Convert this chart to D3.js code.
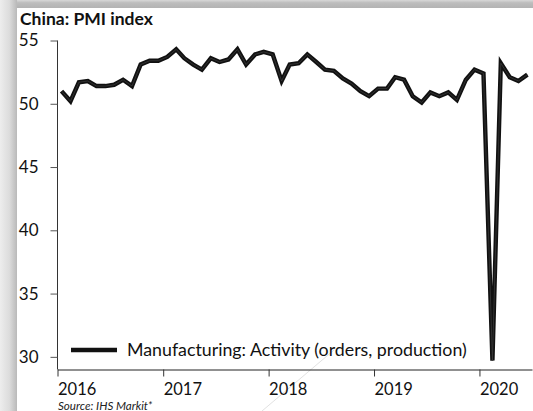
<!DOCTYPE html>
<html>
<head>
<meta charset="utf-8">
<script src="https://cdn.jsdelivr.net/npm/d3@7"></script>
<style>
  html, body { margin: 0; padding: 0; background: #fff; }
  svg { display: block; font-family: Lato, "Open Sans", sans-serif; }
</style>
</head>
<body>
<svg id="chart" width="533" height="411"></svg>
<script>
// China PMI, manufacturing activity, monthly from Jan 2016 to Jun 2020
var startMonth = '2016-01';
var activity = [
  51.0, 50.2, 51.7, 51.8, 51.4, 51.4, 51.5, 51.9, 51.4, 53.1, 53.4, 53.4,
  53.7, 54.3, 53.6, 53.1, 52.7, 53.6, 53.3, 53.5, 54.3, 53.1, 53.9, 54.1,
  53.9, 51.8, 53.1, 53.2, 53.9, 53.3, 52.7, 52.6, 52.0, 51.6, 51.0, 50.6,
  51.2, 51.2, 52.1, 51.9, 50.6, 50.1, 50.9, 50.6, 50.9, 50.3, 51.9, 52.7,
  52.4, 29.7, 53.2, 52.1, 51.8, 52.3
];
var yearTicks = [2016, 2017, 2018, 2019, 2020];
var valueTicks = [30, 35, 40, 45, 50, 55];
var seriesName = 'Manufacturing: Activity (orders, production)';
var titleText = 'China: PMI index';
var sourceText = 'Source: IHS Markit*';

var svg = d3.select('#chart');
var W = 533, H = 411;

// grey frame round the picture (left and top edges)
var defs = svg.append('defs');
var gl = defs.append('linearGradient').attr('id', 'edgeLeft')
  .attr('x1', 0).attr('x2', 1).attr('y1', 0).attr('y2', 0);
gl.append('stop').attr('offset', 0).attr('stop-color', '#ededed');
gl.append('stop').attr('offset', 0.55).attr('stop-color', '#dcdcdc');
gl.append('stop').attr('offset', 1).attr('stop-color', '#b9b9b9');
var gt = defs.append('linearGradient').attr('id', 'edgeTop')
  .attr('x1', 0).attr('x2', 0).attr('y1', 0).attr('y2', 1);
gt.append('stop').attr('offset', 0).attr('stop-color', '#d8d8d8');
gt.append('stop').attr('offset', 0.35).attr('stop-color', '#bdbdbd');
gt.append('stop').attr('offset', 1).attr('stop-color', '#b3b3b3');

svg.append('rect').attr('width', W).attr('height', H).attr('fill', '#fff');
svg.append('rect').attr('x', 0).attr('y', 0).attr('width', W).attr('height', 8)
  .attr('fill', 'url(#edgeTop)');
svg.append('rect').attr('x', 0).attr('y', 0).attr('width', 17).attr('height', H)
  .attr('fill', 'url(#edgeLeft)');
// faint scan streak seen in the picture
svg.append('line').attr('x1', 262).attr('y1', 411).attr('x2', 334).attr('y2', 350)
  .attr('stroke', '#d4d4d4').attr('stroke-width', 0.7);

var parseMonth = d3.timeParse('%Y-%m');
var t0 = parseMonth(startMonth);
var points = activity.map(function(v, i) {
  return { date: d3.timeDay.offset(d3.timeMonth.offset(t0, i), 14), value: v };
});

var x = d3.scaleTime()
  .domain([t0, d3.timeMonth.offset(t0, activity.length)])
  .range([57.5, 532]);
var y = d3.scaleLinear().domain([29, 55]).range([369.5, 40.5]);

// title
svg.append('text')
  .attr('x', 20).attr('y', 24.5)
  .attr('font-size', 17.5).attr('font-weight', 700).attr('fill', '#111')
  .text(titleText);

// y axis
var yAxis = svg.append('g')
  .attr('transform', 'translate(57.5,0)')
  .call(d3.axisLeft(y).tickValues(valueTicks).tickSize(7).tickPadding(12).tickFormat(d3.format('d')));
yAxis.select('.domain').attr('stroke', '#333').attr('d', 'M0,' + y(55) + 'V' + y(29));
yAxis.selectAll('.tick line').attr('stroke', '#555');
yAxis.selectAll('.tick text')
  .attr('font-size', 17).attr('fill', '#111').attr('font-family', 'Lato, sans-serif');

// x axis, year ticks with labels starting at the tick
var yearDates = yearTicks.map(function(yr) { return new Date(yr, 0, 1); });
var xAxis = svg.append('g')
  .attr('transform', 'translate(0,' + y(29) + ')')
  .call(d3.axisBottom(x).tickValues(yearDates).tickSize(7).tickSizeOuter(0)
    .tickFormat(d3.timeFormat('%Y')));
xAxis.select('.domain').attr('stroke', '#222');
xAxis.selectAll('.tick line').attr('stroke', '#333');
xAxis.selectAll('.tick text')
  .attr('text-anchor', 'start').attr('dy', null).attr('y', 25.5)
  .attr('font-size', 16.5).attr('fill', '#111').attr('font-family', 'Lato, sans-serif');

// series line
var line = d3.line()
  .x(function(d) { return x(d.date); })
  .y(function(d) { return y(d.value); });
svg.append('path').datum(points)
  .attr('d', line).attr('fill', 'none')
  .attr('stroke', '#111').attr('stroke-width', 4.4).attr('stroke-linejoin', 'miter');
svg.append('path').datum(points)
  .attr('d', line).attr('fill', 'none')
  .attr('stroke', '#3a3a3a').attr('stroke-width', 0.8);

// legend
var legend = svg.append('g').attr('transform', 'translate(71,350)');
legend.append('line').attr('x1', 0).attr('x2', 46).attr('y1', 0).attr('y2', 0)
  .attr('stroke', '#111').attr('stroke-width', 4.4);
legend.append('text').attr('x', 56).attr('y', 6)
  .attr('font-size', 17.8).attr('fill', '#111')
  .text(seriesName);

// source note
svg.append('text')
  .attr('x', 58).attr('y', 410)
  .attr('font-size', 11.6).attr('font-style', 'italic').attr('fill', '#222')
  .text(sourceText);
</script>
</body>
</html>
